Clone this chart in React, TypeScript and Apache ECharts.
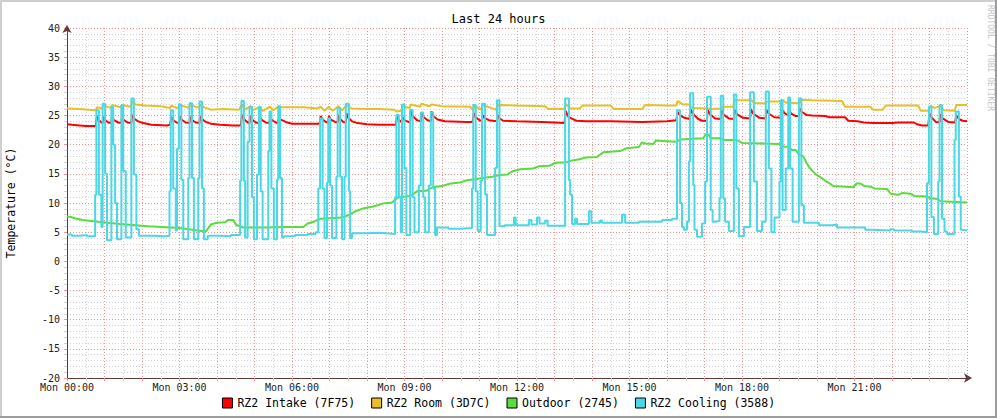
import React, { useEffect, useRef } from 'react';
import * as echarts from 'echarts';

// time in minutes since Mon 00:00, temperature in °C
const TITLE = 'Last 24 hours';
const Y_NAME = 'Temperature (°C)';
const WATERMARK = 'RRDTOOL / TOBI OETIKER';
const TICK_LABELS = ['Mon 00:00', 'Mon 03:00', 'Mon 06:00', 'Mon 09:00', 'Mon 12:00', 'Mon 15:00', 'Mon 18:00', 'Mon 21:00'];
const SERIES_NAMES = ['RZ2 Intake (7F75)', 'RZ2 Room (3D7C)', 'Outdoor (2745)', 'RZ2 Cooling (3588)'];
const SERIES_COLORS = ['#ff0000', '#e8bf2a', '#5adc3c', '#4bd8e6'];

const INTAKE: [number, number][] = [
  [0, 23.5], [8, 23.4], [20, 23.3], [30, 23.2], [46, 23.2],
  [48, 24.9], [50, 24.3], [55, 23.8], [57, 23.7],
  [58, 24.8], [61, 24.2], [66, 23.8], [71, 23.7],
  [72, 24.8], [75, 24.2], [82, 23.8], [87, 23.7],
  [88, 24.8], [91, 24.2], [97, 23.8], [103, 23.7],
  [104, 25.1], [108, 24.4], [114, 24.0], [122, 23.7], [135, 23.4], [160, 23.3], [165, 23.4],
  [167, 24.8], [170, 24.2], [175, 23.8], [179, 23.7],
  [180, 24.9], [183, 24.3], [190, 23.8], [196, 23.7],
  [197, 24.8], [200, 24.2], [206, 23.8], [212, 23.7],
  [213, 24.9], [216, 24.4], [222, 23.9], [230, 23.6], [245, 23.4], [265, 23.3], [278, 23.3],
  [280, 25.1], [283, 24.4], [289, 23.8], [292, 23.7],
  [293, 24.9], [296, 24.3], [302, 23.8], [307, 23.7],
  [308, 24.9], [311, 24.3], [318, 23.8], [324, 23.7],
  [325, 24.8], [328, 24.2], [334, 23.8], [338, 23.7],
  [339, 24.8], [342, 24.3], [350, 23.9], [360, 23.6], [400, 23.6], [404, 23.6],
  [406, 24.9], [409, 24.3], [414, 23.9], [418, 23.8],
  [419, 24.9], [422, 24.3], [429, 23.9], [433, 23.8],
  [434, 25.1], [437, 24.4], [442, 23.9], [446, 23.8],
  [447, 25.4], [450, 24.6], [456, 24.0], [465, 23.7], [480, 23.5], [500, 23.4], [526, 23.4],
  [528, 24.8], [531, 24.2], [535, 23.9], [536, 23.9],
  [537, 24.7], [540, 24.2], [546, 23.9], [549, 23.9],
  [550, 25.7], [553, 24.9], [560, 24.2], [566, 24.0],
  [567, 25.4], [570, 24.8], [577, 24.2], [582, 24.0],
  [583, 25.7], [586, 24.9], [593, 24.3], [605, 24.0], [640, 23.9], [649, 23.9],
  [651, 25.4], [654, 24.7], [660, 24.2], [664, 24.1],
  [665, 25.1], [668, 24.6], [675, 24.2], [688, 24.0],
  [689, 25.1], [692, 24.5], [698, 24.1], [720, 24.0], [760, 23.9], [780, 23.8], [796, 23.7],
  [798, 25.8], [802, 24.8], [807, 24.5], [815, 24.1], [830, 24.0], [870, 24.0], [920, 23.9], [960, 24.0], [975, 24.2],
  [977, 25.6], [981, 25.0], [988, 24.6], [996, 24.4],
  [998, 26.0], [1002, 25.2], [1010, 24.4], [1016, 24.1], [1024, 24.1],
  [1025, 26.0], [1029, 25.2], [1037, 24.5], [1046, 24.4],
  [1047, 25.9], [1051, 25.1], [1059, 24.5], [1067, 24.4],
  [1068, 26.0], [1072, 25.2], [1082, 24.6], [1093, 24.5],
  [1094, 26.1], [1098, 25.3], [1108, 24.6], [1118, 24.5],
  [1119, 26.0], [1123, 25.3], [1132, 24.7], [1143, 24.6],
  [1144, 26.0], [1148, 25.4], [1154, 25.0],
  [1155, 25.8], [1159, 25.3], [1166, 24.9], [1171, 24.9],
  [1172, 26.2], [1176, 25.6], [1183, 25.1], [1192, 25.0],
  [1213, 24.9], [1220, 24.7], [1245, 24.7], [1250, 24.1], [1265, 24.0], [1275, 23.8], [1290, 23.7],
  [1320, 23.7], [1330, 23.8], [1355, 23.8], [1360, 23.5], [1368, 23.3], [1378, 23.3],
  [1380, 25.3], [1384, 24.6], [1390, 23.9], [1396, 23.8],
  [1397, 25.2], [1401, 24.5], [1410, 23.9], [1421, 23.8],
  [1423, 25.0], [1427, 24.4], [1433, 24.1], [1440, 24.0],
];

const ROOM: [number, number][] = [
  [0, 26.2], [20, 26.1], [35, 26.0], [46, 25.9], [48, 26.4], [56, 26.2], [58, 26.7], [70, 26.3], [72, 26.8],
  [86, 26.4], [88, 26.8], [102, 26.5], [104, 27.4], [110, 26.9], [125, 26.7], [150, 26.6], [165, 26.3],
  [167, 26.7], [178, 26.2], [180, 26.8], [195, 26.3], [197, 26.8], [211, 26.3], [213, 26.8], [220, 26.4],
  [230, 26.0], [250, 26.1], [275, 26.0], [280, 26.9], [285, 26.0], [293, 26.6], [298, 25.9], [308, 26.5],
  [313, 25.8], [325, 26.5], [330, 25.9], [339, 26.6], [345, 26.4], [380, 26.4], [400, 26.2], [406, 26.5],
  [412, 25.8], [419, 26.5], [425, 25.8], [434, 26.6], [440, 25.9], [447, 26.7], [455, 26.2], [480, 26.1],
  [500, 26.1], [524, 26.0], [527, 25.7], [535, 25.8], [537, 26.6], [548, 26.3], [550, 26.9], [565, 26.5],
  [567, 27.0], [580, 26.6], [583, 26.9], [600, 26.6], [645, 26.5], [650, 25.9], [652, 26.7], [662, 26.0],
  [665, 26.8], [686, 26.0], [689, 26.8], [720, 26.7], [765, 26.6], [770, 26.1], [796, 26.1], [798, 27.0],
  [805, 26.2], [820, 26.2], [825, 26.7], [870, 26.7], [875, 26.1], [920, 26.1], [925, 26.8], [960, 26.7],
  [975, 26.7], [977, 27.5], [985, 26.9], [995, 26.9], [1000, 26.3], [1025, 26.2], [1030, 26.1], [1048, 26.2],
  [1050, 26.5], [1066, 26.5], [1068, 27.6], [1095, 27.6], [1100, 27.1], [1118, 27.1], [1120, 27.4], [1140, 27.4],
  [1145, 27.7], [1150, 27.2], [1155, 27.2], [1172, 27.1], [1174, 27.7], [1192, 27.6], [1240, 27.5], [1245, 26.5],
  [1285, 26.5], [1290, 26.0], [1305, 26.0], [1310, 26.7], [1362, 26.7], [1366, 25.8], [1379, 25.8], [1381, 26.7],
  [1388, 26.3], [1397, 26.6], [1403, 25.9], [1420, 25.8], [1423, 26.8], [1440, 26.8],
];

const OUTDOOR: [number, number][] = [
  [0, 7.7], [6, 7.6], [12, 7.4], [25, 7.1], [50, 6.8], [85, 6.4], [130, 6.0], [180, 5.7], [215, 5.2], [222, 5.1],
  [230, 6.3], [240, 6.6], [253, 6.7], [258, 7.1], [266, 7.1], [270, 6.3], [282, 5.8], [320, 5.8], [345, 5.9],
  [378, 5.9], [385, 6.5], [395, 6.8], [405, 7.3], [440, 7.5], [450, 7.9], [462, 8.6], [475, 9.1], [490, 9.4],
  [505, 9.9], [520, 10.1], [530, 11.0], [550, 11.2], [560, 12.0], [575, 12.1], [585, 12.7], [600, 12.9],
  [612, 13.3], [628, 13.5], [640, 13.9], [655, 14.1], [665, 14.3], [680, 14.5], [692, 14.8], [705, 14.9],
  [712, 15.4], [725, 15.8], [745, 15.9], [755, 16.3], [772, 16.4], [782, 16.9], [800, 17.0], [808, 17.3],
  [820, 17.5], [830, 17.8], [848, 17.9], [858, 18.7], [885, 18.9], [895, 19.4], [915, 19.6], [920, 20.4],
  [925, 20.2], [938, 20.1], [942, 20.7], [960, 20.6], [975, 20.5], [982, 20.9], [1000, 21.0], [1018, 21.1],
  [1022, 21.8], [1026, 21.8], [1030, 21.1], [1045, 21.1], [1052, 20.8], [1072, 20.8], [1080, 20.3], [1110, 20.2],
  [1140, 20.1], [1147, 19.7], [1155, 19.6], [1160, 19.1], [1166, 19.1], [1171, 18.3], [1178, 18.0], [1184, 16.7],
  [1190, 15.8], [1198, 14.9], [1206, 14.4], [1213, 13.8], [1220, 13.4], [1226, 12.9], [1258, 12.7], [1264, 13.4],
  [1270, 13.3], [1276, 12.9], [1286, 12.8], [1292, 12.5], [1312, 12.4], [1318, 11.6], [1330, 11.4], [1336, 11.7],
  [1350, 11.6], [1356, 11.2], [1376, 11.1], [1382, 10.8], [1393, 10.7], [1398, 10.3], [1440, 10.1],
];

// step values: each value holds from its minute until the next point
const COOLING: [number, number][] = [
  [0, 4.6], [8, 4.4], [20, 4.5], [32, 4.3],
  [45, 11.4], [47, 25.9], [51, 11.4], [55, 5.9], [57, 27.0], [61, 15.0], [64, 3.6], [71, 26.5], [74, 20.0],
  [77, 10.0], [80, 3.8], [87, 26.8], [90, 15.5], [94, 4.1], [103, 27.9], [107, 14.9], [111, 5.5], [115, 4.4],
  [140, 4.3], [155, 4.4],
  [164, 12.0], [166, 25.9], [170, 12.5], [174, 5.3], [176, 19.3], [179, 26.9], [183, 14.0], [186, 3.8],
  [194, 14.3], [196, 27.1], [200, 14.3], [203, 3.8], [210, 14.3], [212, 27.4], [216, 12.5], [219, 3.8], [225, 4.4],
  [245, 4.3], [262, 4.5],
  [277, 13.8], [279, 27.5], [283, 13.8], [285, 4.1], [289, 20.5], [292, 26.5], [296, 11.0], [299, 3.8],
  [304, 14.9], [307, 26.5], [310, 12.0], [313, 3.8], [322, 18.9], [324, 25.7], [327, 12.5], [331, 3.8],
  [336, 14.0], [338, 26.6], [341, 14.3], [344, 4.1], [347, 4.3],
  [365, 4.5], [385, 4.7], [398, 5.0],
  [402, 12.5], [405, 24.5], [409, 12.5], [412, 4.0], [416, 13.5], [418, 24.5], [421, 13.0], [424, 4.0],
  [431, 14.5], [433, 26.3], [437, 14.5], [440, 3.8], [444, 14.5], [446, 27.0], [451, 12.0], [453, 4.0], [456, 4.8],
  [480, 4.9], [500, 4.8], [512, 4.7],
  [525, 11.0], [527, 25.1], [531, 11.0], [534, 5.0], [536, 26.9], [540, 16.0], [543, 4.5], [549, 26.0],
  [553, 11.0], [556, 5.0], [563, 13.0], [566, 25.5], [570, 11.0], [573, 5.0], [579, 13.0], [582, 25.5],
  [586, 12.5], [589, 4.5], [592, 5.8], [610, 5.6], [630, 5.7],
  [648, 12.5], [650, 26.8], [654, 12.0], [657, 5.2], [662, 13.8], [664, 27.0], [669, 11.5], [672, 4.5],
  [685, 16.0], [688, 27.6], [692, 6.0], [700, 6.2],
  [712, 6.2], [715, 7.5], [718, 6.2], [739, 7.1], [743, 6.3], [752, 7.5], [756, 6.5], [765, 7.0], [769, 6.1],
  [797, 27.9], [803, 13.9], [805, 11.4], [808, 6.4], [813, 7.3], [816, 6.4], [835, 8.6], [839, 6.6],
  [853, 7.0], [856, 6.6], [888, 8.0], [893, 6.6], [915, 6.8], [952, 7.1], [968, 7.3],
  [976, 25.9], [981, 10.0], [984, 5.9], [987, 5.4], [992, 6.8], [995, 17.1], [997, 28.8], [1002, 13.1],
  [1004, 5.4], [1008, 4.2], [1016, 6.5], [1021, 13.7], [1024, 28.2], [1030, 8.8], [1033, 6.8], [1037, 6.9],
  [1044, 10.8], [1046, 28.4], [1050, 10.8], [1053, 6.8], [1059, 5.2], [1067, 28.6], [1071, 12.5], [1075, 4.3],
  [1083, 5.9], [1093, 29.0], [1099, 13.7], [1104, 5.2], [1112, 6.8], [1118, 29.1], [1123, 15.9], [1127, 5.0],
  [1132, 7.5], [1140, 13.7], [1142, 27.6], [1145, 8.8], [1150, 15.9], [1154, 28.1], [1157, 15.9], [1161, 6.8],
  [1171, 27.9], [1175, 9.6], [1179, 6.6],
  [1192, 6.6], [1203, 6.2], [1224, 6.3], [1232, 5.8], [1277, 5.4], [1288, 5.3], [1317, 5.5], [1323, 5.3],
  [1352, 5.1], [1368, 5.0],
  [1376, 13.4], [1379, 26.5], [1383, 7.6], [1387, 4.7], [1394, 13.7], [1396, 26.8], [1400, 7.3], [1404, 5.1],
  [1408, 4.7], [1420, 20.8], [1422, 25.7], [1427, 11.1], [1430, 5.4], [1433, 5.3], [1440, 5.3],
];

const X_MIN = 0;
const X_MAX = 1440;
const Y_MIN = -20;
const Y_MAX = 40;

const MONO = '"DejaVu Sans Mono", "Liberation Mono", monospace';

export default function App() {
  const ref = useRef<HTMLDivElement>(null);

  useEffect(() => {
    if (!ref.current) return;
    const chart = echarts.init(ref.current, null, { renderer: 'svg' });
    const axisColor = '#5e3b3b';
    const major = { color: '#f29292', width: 1, type: [1, 2] as any };
    const minor = { color: '#d2d2d2', width: 1, type: [1, 2] as any };
    const datasets = [INTAKE, ROOM, OUTDOOR, COOLING];

    chart.setOption({
      animation: false,
      backgroundColor: '#ffffff',
      title: {
        text: TITLE,
        left: 'center',
        top: 13,
        padding: 0,
        textStyle: { fontFamily: MONO, fontSize: 12, fontWeight: 'normal', color: '#000' },
      },
      grid: { left: 67, top: 28, width: 900, height: 350, containLabel: false, outerBoundsMode: 'none' },
      legend: {
        data: SERIES_NAMES,
        left: 'center',
        top: 397,
        padding: 0,
        icon: 'rect',
        itemWidth: 10,
        itemHeight: 10,
        itemGap: 16,
        itemStyle: { borderColor: '#000', borderWidth: 1 },
        textStyle: { fontFamily: MONO, fontSize: 11.5, color: '#000' },
        selectedMode: false,
      },
      xAxis: {
        type: 'value',
        min: X_MIN,
        max: X_MAX,
        interval: 60,
        axisLine: {
          show: true,
          onZero: false,
          lineStyle: { color: axisColor, width: 1 },
          symbol: ['none', 'arrow'],
          symbolSize: [7, 8],
          symbolOffset: [0, 5],
        },
        axisTick: { show: true, length: 3, lineStyle: { color: '#f29292' } },
        minorTick: { show: true, splitNumber: 2, length: 3, lineStyle: { color: '#d2d2d2' } },
        splitLine: { show: true, lineStyle: major },
        minorSplitLine: { show: true, lineStyle: minor },
        axisLabel: {
          margin: 4,
          fontFamily: MONO,
          fontSize: 10,
          color: '#222',
          showMaxLabel: false,
          formatter: (v: number) => (v % 180 === 0 && v < X_MAX ? TICK_LABELS[v / 180] : ''),
        },
      },
      yAxis: {
        type: 'value',
        min: Y_MIN,
        max: Y_MAX,
        interval: 5,
        name: Y_NAME,
        nameLocation: 'middle',
        nameGap: 50,
        nameTextStyle: { fontFamily: MONO, fontSize: 11.5, color: '#000' },
        axisLine: {
          show: true,
          onZero: false,
          lineStyle: { color: axisColor, width: 1 },
          symbol: ['none', 'arrow'],
          symbolSize: [7, 8],
          symbolOffset: [0, 3],
        },
        axisTick: { show: true, length: 3, lineStyle: { color: '#f29292' } },
        minorTick: { show: true, splitNumber: 5, length: 3, lineStyle: { color: '#d2d2d2' } },
        splitLine: { show: true, lineStyle: major },
        minorSplitLine: { show: true, lineStyle: minor },
        axisLabel: { margin: 7, fontFamily: MONO, fontSize: 10, color: '#222' },
      },
      series: SERIES_NAMES.map((name, i) => ({
        name,
        type: 'line',
        data: datasets[i],
        step: i === 3 ? 'end' : false,
        showSymbol: false,
        symbol: 'none',
        silent: true,
        color: SERIES_COLORS[i],
        itemStyle: { color: SERIES_COLORS[i] },
        lineStyle: { color: SERIES_COLORS[i], width: 2 },
        z: 2 + i,
      })),
      graphic: [
        {
          type: 'text',
          x: 994,
          y: 5,
          rotation: -Math.PI / 2,
          silent: true,
          style: {
            text: WATERMARK,
            font: `8px ${MONO}`,
            fill: '#c4c4c4',
            textAlign: 'left',
            textVerticalAlign: 'top',
          },
        },
        { type: 'rect', silent: true, shape: { x: 0, y: 0, width: 997, height: 2 }, style: { fill: '#cfcfcf' } },
        { type: 'rect', silent: true, shape: { x: 0, y: 0, width: 2, height: 418 }, style: { fill: '#cfcfcf' } },
        { type: 'rect', silent: true, shape: { x: 995, y: 0, width: 2, height: 418 }, style: { fill: '#9c9c9c' } },
        { type: 'rect', silent: true, shape: { x: 0, y: 416, width: 997, height: 2 }, style: { fill: '#9c9c9c' } },
      ],
    });

    return () => chart.dispose();
  }, []);

  return (
    <div style={{ position: 'fixed', left: 0, top: 0, width: 997, height: 418, background: '#fff' }}>
      <div ref={ref} style={{ width: 997, height: 418 }} />
    </div>
  );
}
